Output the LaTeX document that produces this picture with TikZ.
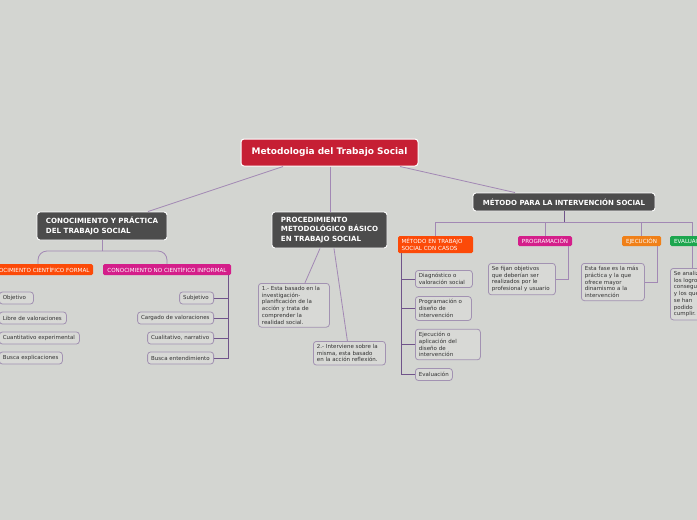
\documentclass[tikz,border=0pt]{standalone}
\usepackage{fontspec}
\setmainfont{DejaVu Sans}
\definecolor{bg}{RGB}{211,213,209}
\definecolor{rootred}{RGB}{198,31,52}
\definecolor{dark}{RGB}{76,76,76}
\definecolor{ored}{RGB}{252,74,8}
\definecolor{mag}{RGB}{212,30,138}
\definecolor{orng}{RGB}{240,128,24}
\definecolor{grn}{RGB}{28,166,78}
\definecolor{conn}{RGB}{162,136,180}
\definecolor{conndark}{RGB}{112,84,138}
\definecolor{itmborder}{RGB}{162,146,178}
\definecolor{itmfill}{RGB}{216,217,214}
\definecolor{itmtext}{RGB}{50,50,50}
\tikzset{
  lnk/.style={draw=conn, line width=0.8pt},
  lnkd/.style={draw=conndark, line width=1pt},
  rootbox/.style={fill=rootred, draw=white, line width=1pt, rounded corners=3pt, text=white,
    font=\fontsize{9}{11}\selectfont\bfseries, minimum width=177pt, minimum height=27pt, inner sep=0pt},
  hdr/.style={fill=dark, draw=white, line width=0.9pt, rounded corners=3pt, text=white,
    font=\fontsize{7.1}{9.2}\selectfont\bfseries, align=left, inner xsep=8pt, inner ysep=0pt},
  tag/.style={fill=#1, text=white, rounded corners=1.5pt, inner xsep=1pt, inner ysep=0pt,
    font=\fontsize{5.6}{6.6}\selectfont, minimum height=11pt},
  itm/.style={fill=itmfill, draw=itmborder, line width=0.8pt, rounded corners=3pt, text=itmtext,
    font=\fontsize{5.5}{6.7}\selectfont, align=left, text width=#1, inner xsep=3.5pt, inner ysep=3pt, minimum height=12pt}
}
\begin{document}
\begin{tikzpicture}[x=1pt,y=-1pt]
\fill[bg] (0,0) rectangle (697,520);
\useasboundingbox (0,0) rectangle (697,520);
\clip (0,0) rectangle (697,520);

% root
\node[rootbox] (root) at (329.5,152.5) {Metodologia del Trabajo Social};

% level 1
\node[hdr, minimum width=130pt, minimum height=28pt] (cyp) at (102,226) {CONOCIMIENTO Y PRÁCTICA\\DEL TRABAJO SOCIAL};
\node[hdr, minimum width=115pt, minimum height=36pt] (proc) at (329.5,230) {PROCEDIMIENTO\\METODOLÓGICO BÁSICO\\EN TRABAJO SOCIAL};
\node[hdr, minimum width=182pt, minimum height=18pt, align=center, font=\fontsize{7}{8}\selectfont\bfseries] (mis) at (564,202) {MÉTODO PARA LA INTERVENCIÓN SOCIAL};

\draw[lnk] ([xshift=-46.5]root.south) -- ([xshift=46]cyp.north);
\draw[lnk] ([xshift=0.5]root.south) -- ([xshift=0.5]proc.north);
\draw[lnk] ([xshift=70.5]root.south) -- ([xshift=-49]mis.north);

% left subtree
\node[tag=ored, minimum width=110pt] (cf) at (38,269.5) {CONOCIMIENTO CIENTÍFICO FORMAL};
\node[tag=mag, minimum width=128pt] (cni) at (167,269.5) {CONOCIMIENTO NO CIENTÍFICO INFORMAL};
\coordinate (j1) at (102,251);
\draw[lnk] (cyp.south) -- (j1);
\draw[lnk, rounded corners=9pt] (j1) -| (cf.north);
\draw[lnk, rounded corners=9pt] (j1) -| (cni.north);

\node[itm=27pt, anchor=west] (obj) at (-1,298) {Objetivo};
\node[itm=60pt, anchor=west] (lib) at (-1,318) {Libre de valoraciones};
\node[itm=73pt, anchor=west] (cex) at (-1,338) {Cuantitativo experimental};
\node[itm=56pt, anchor=west] (bex) at (-1,358) {Busca explicaciones};
\coordinate (cfl) at ([xshift=5]cf.south west);
\draw[lnk] (cfl) |- (obj.west);
\draw[lnk] (cfl) |- (lib.west);
\draw[lnk] (cfl) |- (cex.west);
\draw[lnk] (cfl) |- (bex.west);

\node[itm=27pt, anchor=east] (sub) at (214,298) {Subjetivo};
\node[itm=69pt, anchor=east] (car) at (214,318) {Cargado de valoraciones};
\node[itm=59pt, anchor=east] (cua) at (214,338) {Cualitativo, narrativo};
\node[itm=59pt, anchor=east] (ben) at (214,358) {Busca entendimiento};
\coordinate (ci) at ([xshift=-3]cni.south east);
\draw[lnk, draw=conndark] (ci) |- (sub.east);
\draw[lnk, draw=conndark] (ci) |- (car.east);
\draw[lnk, draw=conndark] (ci) |- (cua.east);
\draw[lnk, draw=conndark] (ci) |- (ben.east);

% middle subtree
\node[itm=64pt, anchor=north west] (p1) at (258,283) {1.- Esta basado en la\\investigación-\\planificación de la\\acción y trata de\\comprender la\\realidad social.};
\node[itm=65pt, anchor=north west] (p2) at (313,341) {2.- Interviene sobre la\\misma, esta basado\\en la acción reflexión.};
\draw[lnk] ([xshift=-9.5]proc.south) -- ([xshift=11]p1.north);
\draw[lnk] ([xshift=4.5]proc.south) -- ([xshift=-2]p2.north);

% right subtree
\coordinate (hj) at (564,222);
\node[tag=ored, text width=68pt, inner xsep=3.5pt, minimum height=17pt, align=left, font=\fontsize{5.6}{6.2}\selectfont] (casos) at (435.5,244.5) {MÉTODO EN TRABAJO\\SOCIAL CON CASOS};
\node[tag=mag, minimum width=54pt, minimum height=10pt] (prog) at (545,241) {PROGRAMACIÓN};
\node[tag=orng, minimum width=39pt, minimum height=10pt] (ejec) at (641.5,241) {EJECUCIÓN};
\node[tag=grn, minimum width=44pt, minimum height=10pt] (eval) at (692,241) {EVALUACIÓN};
\draw[lnkd] (mis.south) -- (hj);
\draw[lnk] (hj) -| (casos.north);
\draw[lnk] (hj) -| (prog.north);
\draw[lnk] (hj) -| (ejec.north);
\draw[lnk] (hj) -| (eval.north);

\node[itm=60pt, anchor=north west] (pt) at (488,263) {Se fijan objetivos\\que deberían ser\\realizados por le\\profesional y usuario};
\node[itm=56pt, anchor=north west] (et) at (581,263) {Esta fase es la más\\práctica y la que\\ofrece mayor\\dinamismo a la\\intervención};
\node[itm=40pt, anchor=north west] (vt) at (670,268) {Se analizan\\los logros\\conseguidos\\y los que\\se han\\podido\\cumplir.};
\draw[lnk] ([xshift=-4]prog.south east) |- (pt.east);
\draw[lnk] ([xshift=-4]ejec.south east) |- (et.east);
\draw[lnk] (eval.south) -- (eval.south |- vt.north);

\node[itm=50pt, anchor=west] (dg) at (415,279) {Diagnóstico o\\valoración social};
\node[itm=49pt, anchor=west] (pd) at (415,308.5) {Programación o\\diseño de\\intervención};
\node[itm=58pt, anchor=west] (ea) at (415,344.5) {Ejecución o\\aplicación del\\diseño de\\intervención};
\node[itm=30pt, anchor=west] (ev) at (415,374.5) {Evaluación};
\coordinate (cc) at ([xshift=4]casos.south west);
\draw[lnk, draw=conndark] (cc) |- (dg.west);
\draw[lnk, draw=conndark] (cc) |- (pd.west);
\draw[lnk, draw=conndark] (cc) |- (ea.west);
\draw[lnk, draw=conndark] (cc) |- (ev.west);
\end{tikzpicture}
\end{document}
